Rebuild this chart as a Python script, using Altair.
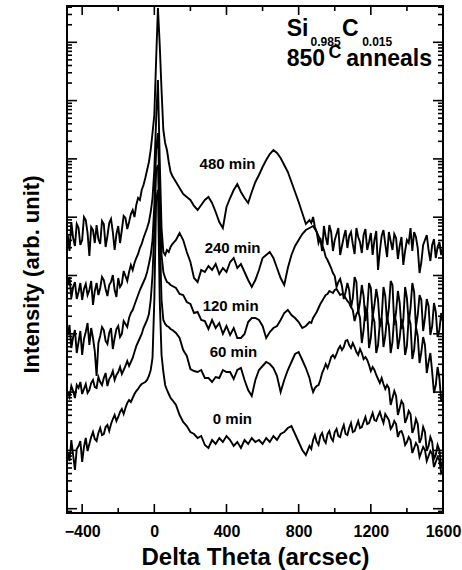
import altair as alt
import pandas as pd
import numpy as np

# ---------------- data ----------------
# sampling positions along Delta Theta (arcsec); finer where the curves are noisy
x_arcsec = (list(range(-480, -99, 10)) + list(range(-90, 101, 10))
            + list(range(120, 861, 20)) + list(range(870, 1601, 10)))

# intensities, arbitrary units (curves offset vertically as in the figure)
h_480 = ([278, 262, 291, 275, 267, 289, 285, 268, 273, 296, 293, 280, 257, 286, 283, 270, 288, 274, 269, 292,
          289, 266, 277, 290, 294, 281, 263, 279, 287, 270, 283, 297, 295, 284, 291, 299, 303, 296, 308]
         + [315, 313, 323, 328, 335, 343, 351, 363, 380, 398, 453, 505, 468, 423, 383, 370, 363, 351, 341, 337]
         + [331, 325, 319, 316, 313, 307, 303, 308, 313, 316, 310, 301, 291, 285, 306, 315, 323, 329, 321, 315,
            310, 321, 331, 338, 346, 353, 359, 363, 360, 355, 348, 341, 331, 321, 311, 300, 289, 293]
         + [290, 296, 286, 281, 270, 275, 262, 287, 276, 268, 288, 281, 262, 273, 279, 285, 258, 267, 276, 283,
            265, 277, 281, 269, 259, 285, 276, 271, 260, 278, 284, 263, 271, 280, 258, 273, 282, 243, 262, 277,
            283, 269, 256, 281, 272, 263, 279, 275, 254, 267, 276, 248, 262, 273, 270, 285, 262, 281, 276, 265,
            240, 251, 268, 273, 278, 263, 252, 268, 274, 255, 266, 271, 258, 265])

h_240 = ([228, 236, 215, 226, 231, 214, 221, 230, 213, 224, 229, 218, 223, 232, 208, 222, 230, 218, 225, 236,
          233, 224, 217, 228, 231, 238, 223, 216, 235, 226, 229, 242, 237, 232, 241, 248, 243, 250, 255]
         + [259, 265, 269, 275, 280, 285, 291, 301, 315, 343, 393, 433, 353, 285, 261, 258, 263, 261, 266, 269]
         + [273, 280, 273, 261, 251, 235, 231, 243, 241, 247, 243, 249, 239, 245, 241, 251, 255, 245, 249, 241,
            233, 226, 233, 243, 255, 258, 261, 255, 245, 235, 228, 245, 258, 267, 273, 279, 283, 285]
         + [286, 287, 284, 281, 277, 273, 268, 263, 256, 253, 249, 245, 240, 237, 226, 231, 234, 227, 214, 221,
            230, 223, 205, 215, 236, 231, 200, 211, 228, 217, 192, 203, 230, 225, 196, 208, 224, 213, 186, 195,
            226, 217, 190, 205, 232, 228, 188, 201, 222, 210, 184, 193, 226, 215, 190, 205, 230, 221, 186, 198,
            218, 213, 182, 195, 214, 207, 178, 187, 210, 201, 176, 183, 200, 191])

h_120 = ([178, 188, 165, 176, 183, 160, 171, 182, 158, 174, 181, 190, 168, 185, 175, 162, 137, 170, 177, 186,
          183, 172, 169, 180, 185, 164, 175, 184, 187, 176, 179, 192, 189, 186, 195, 200, 203, 208, 213]
         + [218, 223, 227, 231, 235, 241, 249, 258, 273, 308, 363, 380, 313, 258, 241, 235, 231, 230, 228, 227]
         + [225, 219, 218, 211, 209, 200, 201, 193, 192, 184, 193, 185, 190, 179, 187, 178, 185, 175, 175, 179,
            191, 195, 195, 193, 187, 175, 181, 185, 187, 193, 200, 203, 198, 195, 191, 185, 187, 191]
         + [190, 195, 198, 201, 205, 209, 212, 215, 218, 219, 222, 221, 220, 223, 224, 221, 218, 219, 218, 215,
            212, 210, 206, 203, 192, 199, 202, 195, 170, 183, 205, 201, 165, 175, 198, 191, 160, 168, 190, 195,
            166, 177, 196, 187, 160, 171, 198, 191, 164, 175, 194, 185, 158, 167, 196, 189, 154, 163, 186, 177,
            150, 161, 176, 168, 140, 151, 160, 141, 120, 128, 146, 135, 112, 118])

h_60 = ([121, 116, 127, 122, 115, 128, 125, 131, 119, 124, 129, 120, 123, 130, 133, 126, 125, 136, 131, 128,
         135, 140, 127, 134, 137, 142, 133, 138, 141, 146, 139, 143, 147, 152, 147, 151, 155, 161, 167]
        + [171, 175, 179, 185, 189, 193, 199, 213, 238, 283, 343, 348, 278, 213, 193, 189, 187, 186, 184, 183]
        + [180, 175, 163, 157, 144, 142, 141, 143, 135, 135, 131, 136, 135, 143, 141, 141, 134, 143, 145, 133,
           123, 117, 133, 143, 147, 151, 149, 145, 137, 121, 133, 143, 151, 159, 161, 153, 145, 135]
        + [127, 121, 125, 127, 128, 133, 140, 144, 149, 145, 150, 156, 158, 155, 159, 164, 167, 163, 166, 172,
           173, 168, 165, 170, 166, 161, 158, 164, 160, 154, 156, 153, 148, 142, 146, 143, 138, 134, 130, 135,
           129, 124, 128, 125, 108, 115, 122, 117, 98, 105, 112, 109, 90, 95, 102, 99, 80, 85, 94, 89,
           70, 75, 86, 81, 62, 67, 76, 71, 54, 58, 68, 63, 46, 51])

h_0 = ([61, 52, 73, 58, 43, 64, 67, 72, 51, 66, 75, 62, 69, 76, 81, 74, 72, 80, 85, 78,
        79, 86, 88, 82, 89, 94, 98, 92, 96, 101, 104, 99, 105, 110, 113, 111, 115, 119, 122]
       + [124, 127, 129, 130, 131, 133, 137, 143, 155, 213, 313, 323, 213, 158, 141, 128, 123, 119, 115, 113]
       + [108, 98, 91, 87, 81, 79, 75, 77, 68, 65, 73, 69, 75, 71, 77, 73, 67, 71, 65, 73,
          69, 75, 71, 73, 69, 75, 71, 77, 73, 79, 81, 85, 87, 79, 71, 63, 58, 67]
       + [64, 73, 78, 71, 68, 77, 80, 73, 70, 79, 82, 75, 72, 81, 84, 77, 76, 83, 88, 79,
          78, 85, 90, 81, 82, 87, 92, 85, 86, 91, 96, 89, 90, 95, 100, 93, 92, 97, 101, 95,
          90, 99, 96, 93, 84, 87, 92, 89, 76, 81, 82, 77, 68, 71, 76, 73, 60, 65, 70, 67,
          56, 61, 66, 63, 52, 57, 62, 59, 46, 51, 56, 53, 40, 43])

series_names = ["0 min", "60 min", "120 min", "240 min", "480 min"]
series_values = [h_0, h_60, h_120, h_240, h_480]

# curve labels
label_text = ["480 min", "240 min", "120 min", "60 min", "0 min"]
label_x = [251, 279, 268, 307, 324]
label_y = [349, 265, 207, 161, 94]

# composition / anneal annotation pieces
note_text = ["Si", "0.985", "C", "0.015", "850", "C", "anneals"]
note_x = [734, 866, 1040, 1152, 734, 966, 1064]
note_y = [477, 467, 477, 467, 447, 455, 447]
note_size = [23, 12, 23, 12, 23, 18, 23]

x_tick_values = [-400, 0, 400, 800, 1200, 1600]
x_minor_values = [-200, 200, 600, 1000, 1400]

# ---------------- layout / style ----------------
W, H = 376, 507
X_DOMAIN = [-484, 1600]
Y_DOMAIN = [0, 507]
FONT = "Liberation Sans"

rows = []
for name, vals in zip(series_names, series_values):
    assert len(vals) == len(x_arcsec), (name, len(vals), len(x_arcsec))
    for xv, yv in zip(x_arcsec, vals):
        rows.append({"series": name, "theta": xv, "intensity": yv})
df = pd.DataFrame(rows)

labels_df = pd.DataFrame({"label": label_text, "theta": label_x, "intensity": label_y})
notes_df = pd.DataFrame({"label": note_text, "theta": note_x, "intensity": note_y, "fs": note_size})

# log-decade tick positions of the (label-less) intensity axis
DECADE = 58.3
first = 4.3
maj, mnr = [], []
for k in range(-1, 10):
    base = first + DECADE * k
    if 0 <= base <= H:
        maj.append(base)
    for m in range(2, 10):
        v = base + DECADE * np.log10(m)
        if 0 <= v <= H:
            mnr.append(v)
ymaj_df = pd.DataFrame({"intensity": maj})
ymin_df = pd.DataFrame({"intensity": mnr})
xmaj_df = pd.DataFrame({"theta": x_tick_values})
xmin_df = pd.DataFrame({"theta": x_minor_values})

xs = alt.Scale(domain=X_DOMAIN, nice=False, zero=False)
ys = alt.Scale(domain=Y_DOMAIN, nice=False, zero=False)

x_axis = alt.Axis(values=x_tick_values, format="d", ticks=False, domain=False, grid=False,
                  labelFont=FONT, labelFontSize=16, labelFontWeight="bold", labelColor="black",
                  labelPadding=10, labelOverlap=False, labelFlush=False,
                  title="Delta Theta (arcsec)", titleFont=FONT, titleFontSize=24,
                  titleFontWeight="bold", titleColor="black", titleBaseline="alphabetic", titleY=51)
y_axis = alt.Axis(labels=False, ticks=False, domain=False, grid=False,
                  title="Intensity (arb. unit)", titleFont=FONT, titleFontSize=22,
                  titleFontWeight="bold", titleColor="black", titleAngle=270,
                  titleAlign="center", titleBaseline="alphabetic", titleX=-29, titleY=268)

X = alt.X("theta:Q", scale=xs, axis=x_axis)
Y = alt.Y("intensity:Q", scale=ys, axis=y_axis)

lines = alt.Chart(df).mark_line(color="black", strokeWidth=1.9, clip=True).encode(
    x=X, y=Y, detail="series:N")

def xticks(data, length):
    bottom = alt.Chart(data).mark_rule(color="black", strokeWidth=1.6).encode(
        x=X, y=alt.value(H), y2=alt.value(H - length))
    top = alt.Chart(data).mark_rule(color="black", strokeWidth=1.6).encode(
        x=X, y=alt.value(0), y2=alt.value(length))
    return [bottom, top]

def yticks(data, length):
    left = alt.Chart(data).mark_rule(color="black", strokeWidth=1.6).encode(
        y=Y, x=alt.value(0), x2=alt.value(length))
    right = alt.Chart(data).mark_rule(color="black", strokeWidth=1.6).encode(
        y=Y, x=alt.value(W), x2=alt.value(W - length))
    return [left, right]

curve_labels = alt.Chart(labels_df).mark_text(
    align="left", baseline="middle", font=FONT, fontSize=15, fontWeight="bold", color="black"
).encode(x=X, y=Y, text="label:N")

notes = alt.Chart(notes_df).mark_text(
    align="left", baseline="alphabetic", font=FONT, fontWeight="bold", color="black"
).encode(x=X, y=Y, text="label:N", size=alt.Size("fs:Q", scale=None, legend=None))

chart = alt.layer(
    lines,
    *xticks(xmaj_df, 9), *xticks(xmin_df, 5),
    *yticks(ymaj_df, 10), *yticks(ymin_df, 5),
    curve_labels, notes,
).properties(
    width=W, height=H,
    padding={"left": 67, "top": 6, "right": 19, "bottom": 57},
    autosize=alt.AutoSizeParams(type="none"),
    background="white",
).configure_view(stroke="black", strokeWidth=2)

chart.save("out.html", embed_options={"renderer": "svg", "actions": False})
